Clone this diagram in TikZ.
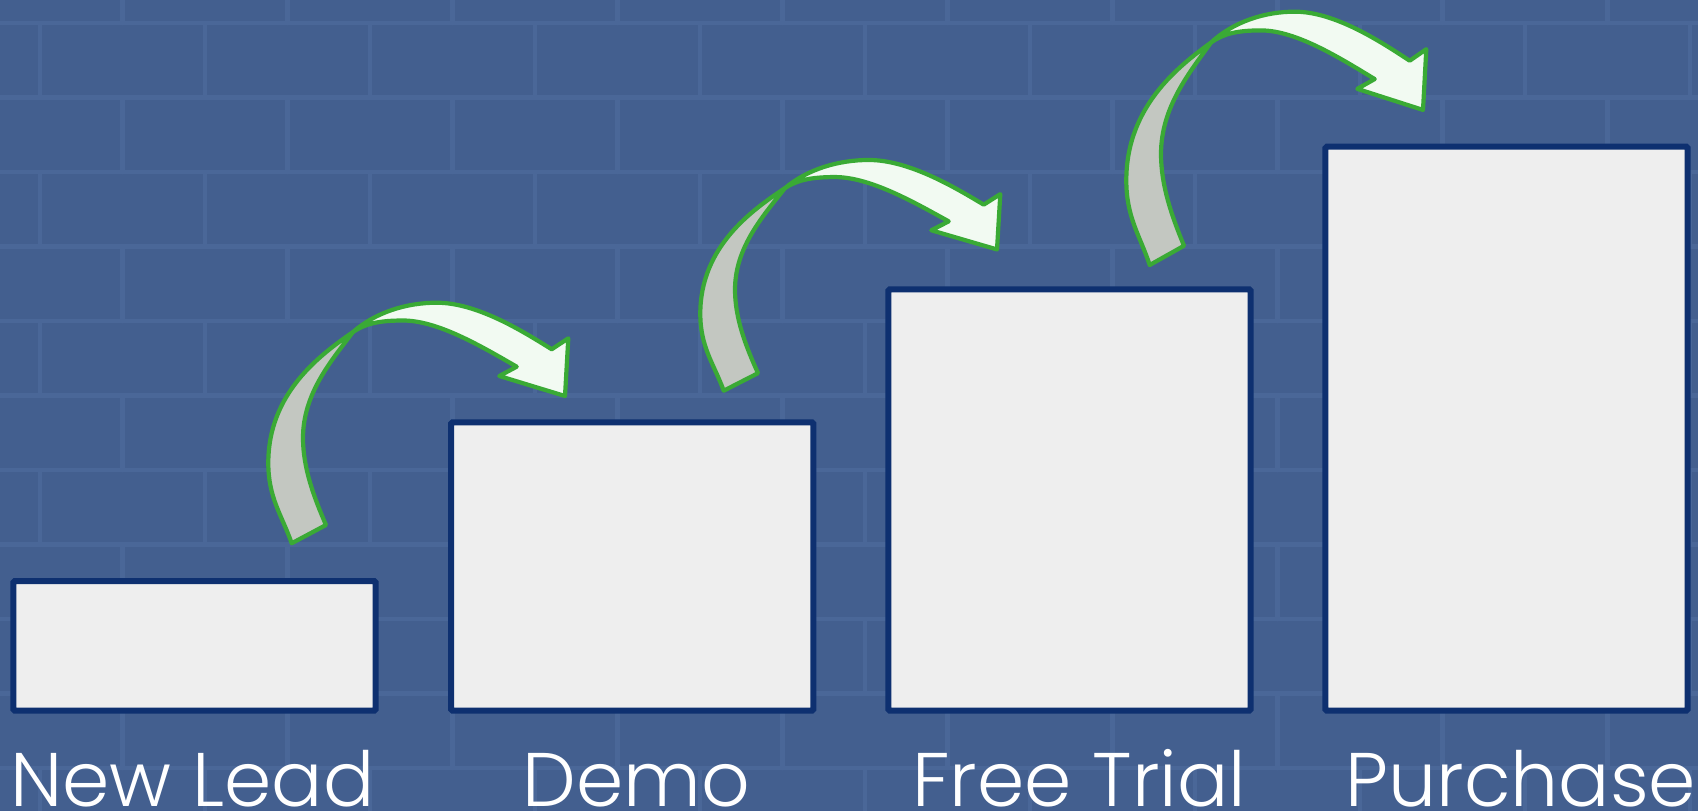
\documentclass[tikz,border=0pt]{standalone}
\usepackage{fontspec}
\setmainfont{Poppins}[UprightFont = * Light]
\usetikzlibrary{positioning}

\definecolor{wallblue}{HTML}{435F8F}
\definecolor{mortarblue}{HTML}{4A6798}
\definecolor{boxnavy}{HTML}{0E3070}
\definecolor{boxfill}{HTML}{EEEEEE}
\definecolor{arrowgreen}{HTML}{3AAA35}
\definecolor{arrowfront}{HTML}{F2FAF2}
\definecolor{arrowback}{HTML}{C3C7C1}

\tikzset{
    mortar/.style     = {draw = mortarblue, line width = 4.5, line cap = round},
    stagebox/.style   = {draw = boxnavy, fill = boxfill, line width = 6, rounded corners = 1.5,
                         minimum width = 362.4pt, inner sep = 0, anchor = south west},
    stagelabel/.style = {text = white, font = \fontsize{76}{80}\selectfont, anchor = base, inner sep = 0},
    jumpline/.style   = {draw = arrowgreen, line width = 4.2, line join = round},
    jump/.pic = {
        % tail, behind
        \path [jumpline, fill = arrowback]
            (23.7,120.3) -- (58,102)
            .. controls (46,74.4) and (35,45) .. (35,15)
            .. controls (35,-30) and (64,-63) .. (85,-91)
            .. controls (52,-68) and (0.3,-30) .. (0.3,40)
            .. controls (0.3,75) and (13.8,92) .. (23.7,120.3)
            -- cycle;
        % front band and head
        \path [jumpline, fill = arrowfront]
            (85,-91)
            .. controls (107.5,-110.8) and (138.7,-120.3) .. (168.7,-120.3)
            .. controls (208.7,-120.3) and (254,-92.3) .. (283.7,-73.7)
            -- (300.3,-84.7) -- (297,-27) -- (231.3,-47) -- (248.7,-56.3)
            .. controls (214,-76.3) and (170,-102.5) .. (135,-102.5)
            .. controls (110,-102.5) and (97,-99) .. (85,-91)
            -- cycle;
    }
}

\begin{document}
\begin{tikzpicture}[x = 1pt, y = -1pt]
    \path [fill = wallblue] (0,0) rectangle (1698,811);
    \useasboundingbox (0,0) rectangle (1698,811);

    % brick wall
    \begin{scope}
        \clip (0,0) rectangle (1698,811);
        \foreach \row in {0,...,11} {
            \pgfmathsetmacro{\ytop}{-51.5 + 74.5*\row}
            \pgfmathsetmacro{\xoff}{mod(\row+1,2)*82.5 + 40}
            \draw [mortar] (0,\ytop) -- (1698,\ytop);
            \foreach \col in {0,...,10}
                \draw [mortar] ({\xoff + 165*\col},\ytop) -- ++(0,74.5);
        }
    \end{scope}

    \node [stagebox, minimum height = 129.7pt] (lead)     at (10.3,713.7)   {};
    \node [stagebox, minimum height = 288.4pt] (demo)     at (448,713.7)    {};
    \node [stagebox, minimum height = 421.4pt] (trial)    at (885.3,713.7)  {};
    \node [stagebox, minimum height = 564pt]   (purchase) at (1322.3,713.7) {};

    \node [stagelabel] (leadtext)     at (192.5,806) {New Lead};
    \node [stagelabel] (demotext)     at (636.5,806) {Demo};
    \node [stagelabel] (trialtext)    at (1079,806)  {Free Trial};
    \node [stagelabel] (purchasetext) at (1521,806)  {Purchase};

    \pic                   at (268,423)     {jump};
    \pic [yscale = 0.959]  at (700,275.35)  {jump};
    \pic [yscale = 1.053]  at (1126,138.35) {jump};
\end{tikzpicture}
\end{document}
